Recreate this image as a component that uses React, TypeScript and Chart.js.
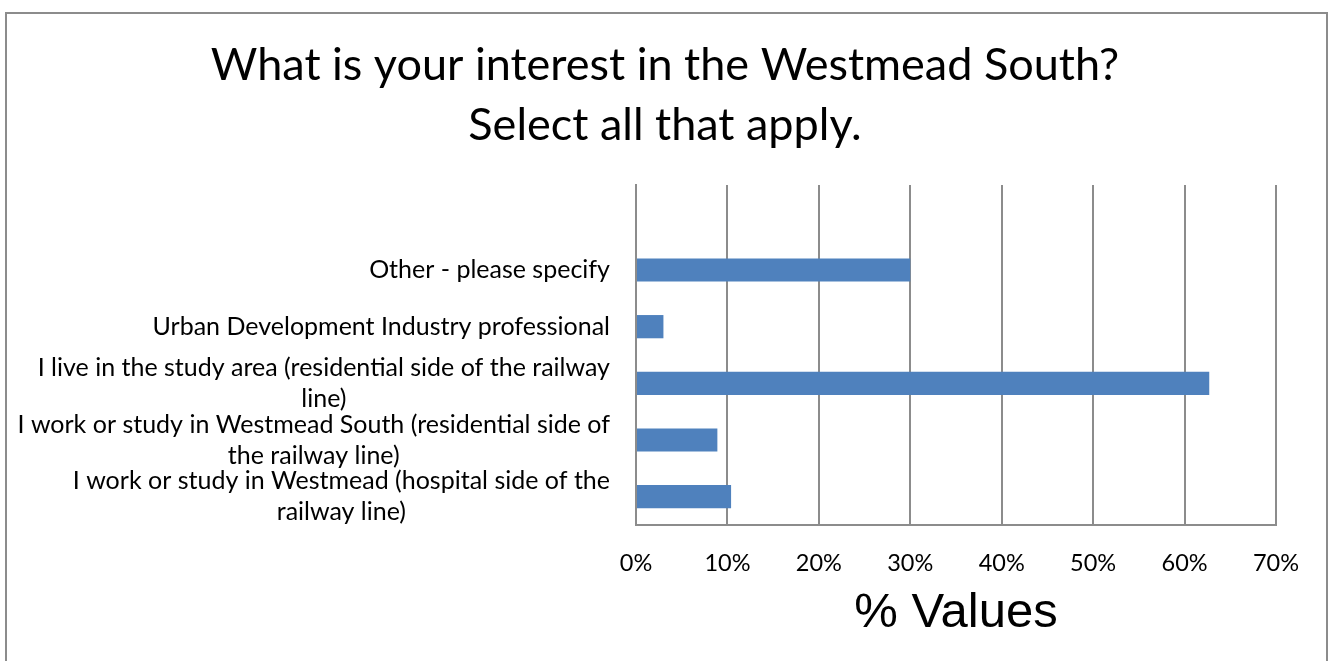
import React, { useEffect, useRef } from "react";
import { Chart, registerables } from "chart.js";

Chart.register(...registerables);

const titleLines = ["What is your interest in the Westmead South?", "Select all that apply."];
const categories: string[][] = [
  [""],
  ["Other - please specify"],
  ["Urban Development Industry professional"],
  ["I live in the study area (residential side of the railway", "line)"],
  ["I work or study in Westmead South (residential side of", "the railway line)"],
  ["I work or study in Westmead (hospital side of the", "railway line)"],
];
const values: (number | null)[] = [null, 30, 3, 62.7, 8.9, 10.4];
const xTicks = [0, 10, 20, 30, 40, 50, 60, 70];
const xAxisTitle = "% Values";

const LABEL_FONT = "25px Lato";
const LABEL_LINE = 31;

const frameAndLabels = {
  id: "frameAndLabels",
  beforeDraw(chart: any) {
    const ctx = chart.ctx;
    ctx.save();
    ctx.strokeStyle = "#8c8c8c";
    ctx.lineWidth = 2;
    ctx.strokeRect(6, 13, 1321, 700);
    ctx.restore();
  },
  afterDraw(chart: any) {
    const ctx = chart.ctx;
    const y = chart.scales.y;
    const right = chart.chartArea.left - 26;
    ctx.save();
    ctx.font = LABEL_FONT;
    ctx.fillStyle = "#000";
    ctx.textAlign = "center";
    ctx.textBaseline = "middle";
    categories.forEach((lines, i) => {
      const cy = y.getPixelForValue(i);
      const maxW = Math.max(...lines.map((l) => ctx.measureText(l).width));
      const cx = right - maxW / 2;
      const y0 = cy - ((lines.length - 1) * LABEL_LINE) / 2;
      lines.forEach((l, j) => ctx.fillText(l, cx, y0 + j * LABEL_LINE));
    });
    ctx.restore();
  },
};

export default function App() {
  const ref = useRef<HTMLCanvasElement>(null);
  useEffect(() => {
    if (!ref.current) return;
    const chart = new Chart(ref.current, {
      type: "bar",
      data: {
        labels: categories.map((c) => c.join(" ")),
        datasets: [
          {
            data: values as any,
            backgroundColor: "#4f81bd",
            borderWidth: 0,
            categoryPercentage: 1,
            barPercentage: 0.41,
          },
        ],
      },
      options: {
        indexAxis: "y",
        animation: false,
        responsive: false,
        layout: { padding: 0 },
        plugins: {
          legend: { display: false },
          tooltip: { enabled: false },
          title: {
            display: true,
            text: titleLines,
            color: "#000",
            font: { family: "Lato", size: 45, weight: "normal", lineHeight: 60 / 45 },
            padding: { top: 35, bottom: 30 },
          },
        },
        scales: {
          x: {
            type: "linear",
            min: 0,
            max: 70,
            afterBuildTicks: (s: any) => {
              s.ticks = xTicks.map((v) => ({ value: v }));
            },
            afterFit: (s: any) => {
              s.height = 136;
            },
            ticks: {
              color: "#000",
              font: { family: "Lato", size: 23.5 },
              padding: 24,
              callback: (v: any) => v + "%",
            },
            grid: { color: "#8c8c8c", lineWidth: 2, drawTicks: false },
            border: { display: true, color: "#8c8c8c", width: 2 },
            title: {
              display: true,
              text: xAxisTitle,
              color: "#000",
              font: { family: "Liberation Sans", size: 49 },
              padding: { top: 0, bottom: 18 },
            },
          },
          y: {
            type: "category",
            afterFit: (s: any) => {
              s.width = 636;
            },
            ticks: { display: false },
            grid: { display: false },
            border: { display: true, color: "#8c8c8c", width: 2 },
          },
          yRight: {
            type: "linear",
            position: "right",
            afterFit: (s: any) => {
              s.width = 54;
            },
            ticks: { display: false },
            grid: { display: false },
            border: { display: false },
          },
        },
      },
      plugins: [frameAndLabels],
    } as any);
    return () => chart.destroy();
  }, []);
  return (
    <div style={{ position: "absolute", left: 0, top: 0, width: 1330, height: 661, background: "#fff" }}>
      <canvas ref={ref} width={1330} height={661} />
    </div>
  );
}
